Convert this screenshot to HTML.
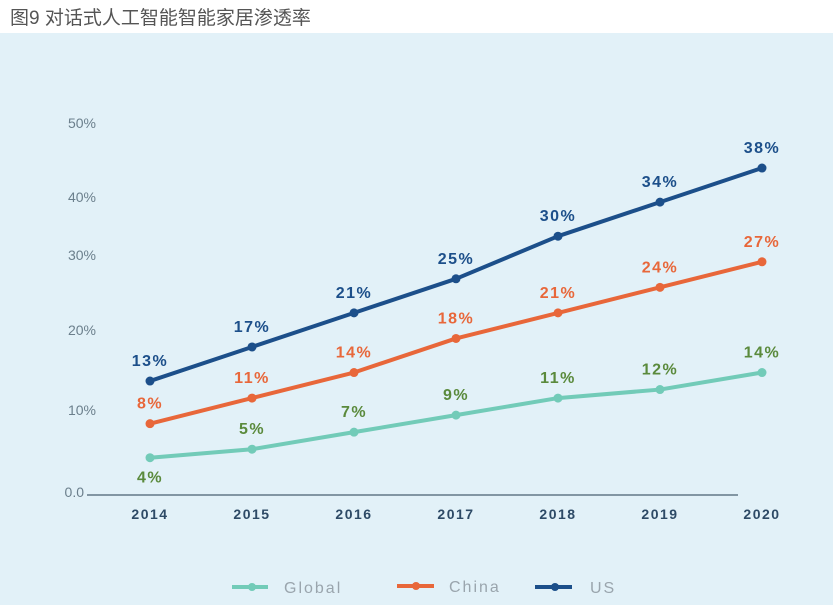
<!DOCTYPE html>
<html><head><meta charset="utf-8"><style>
body{margin:0;width:833px;height:605px;overflow:hidden;background:#fff;font-family:"Liberation Sans","Noto Sans CJK SC",sans-serif}
</style></head><body>
<svg width="833" height="605" viewBox="0 0 833 605">
<text x="10" y="24" font-size="19" fill="#555" font-family="Liberation Sans, Noto Sans CJK SC, sans-serif">图9  对话式人工智能智能家居渗透率</text>
<rect x="0" y="33" width="833" height="572" fill="#e2f1f8"/>
<line x1="87" y1="495" x2="738" y2="495" stroke="#4a6070" stroke-width="1.2"/>
<g id="g"></g>
<g>
<g><line x1="232" y1="587" x2="268" y2="587" stroke="#72cbb8" stroke-width="4"/><circle cx="252" cy="587" r="4" fill="#72cbb8"/><text x="284" y="593" font-size="16" fill="#9aa5ad" letter-spacing="2">Global</text></g>
<g><line x1="397" y1="586" x2="434" y2="586" stroke="#e8673a" stroke-width="4"/><circle cx="416" cy="586" r="4" fill="#e8673a"/><text x="449" y="592" font-size="16" fill="#9aa5ad" letter-spacing="2">China</text></g>
<g><line x1="535" y1="587" x2="572" y2="587" stroke="#1c4f8a" stroke-width="4"/><circle cx="555" cy="587" r="4" fill="#1c4f8a"/><text x="590" y="593" font-size="16" fill="#9aa5ad" letter-spacing="2">US</text></g>
</g>
</svg>
<script>
const years=['2014','2015','2016','2017','2018','2019','2020'];
const globalVals=[4,5,7,9,11,12,14];
const chinaVals=[8,11,14,18,21,24,27];
const usVals=[13,17,21,25,30,34,38];
const tickLabels=['0.0','10%','20%','30%','40%','50%'];
const tickAt=[0,9.6,19,27.8,34.6,43.3];
const NS='http://www.w3.org/2000/svg';
const g=document.getElementById('g');
const x=i=>150+i*102;
const y=v=>491.8-v*8.52;
function mk(t,a,txt){const e=document.createElementNS(NS,t);for(const k in a)e.setAttribute(k,a[k]);if(txt!=null)e.textContent=txt;g.appendChild(e);return e;}
tickLabels.forEach((t,i)=>{const e=mk('text',{x:i===0?84:96,y:y(tickAt[i])+5,'font-size':14,fill:'#6b7f8c','text-anchor':'end'},t);

});
years.forEach((t,i)=>{const e=mk('text',{x:x(i),y:519,'font-size':14,'font-weight':'bold',fill:'#2d4a66','text-anchor':'middle','letter-spacing':'1.5'},t);

});
const series=[['global',globalVals,'#72cbb8','#5a8a3c'],['china',chinaVals,'#e8673a','#e8673a'],['us',usVals,'#1c4f8a','#1c4f8a']];
series.forEach(([n,vals,c,tc])=>{
const p=mk('polyline',{points:vals.map((v,i)=>x(i)+','+y(v)).join(' '),fill:'none',stroke:c,'stroke-width':4,'stroke-linejoin':'round'});


vals.forEach((v,i)=>{
const d=mk('circle',{cx:x(i),cy:y(v),r:4.5,fill:c});


const ly=(n==='global'&&i===0)?y(v)+25:y(v)-15;
const l=mk('text',{x:x(i),y:ly,'font-size':16,'font-weight':'bold',fill:tc,'text-anchor':'middle','letter-spacing':'1.5'},v+'%');


});});
</script>
</body></html>
